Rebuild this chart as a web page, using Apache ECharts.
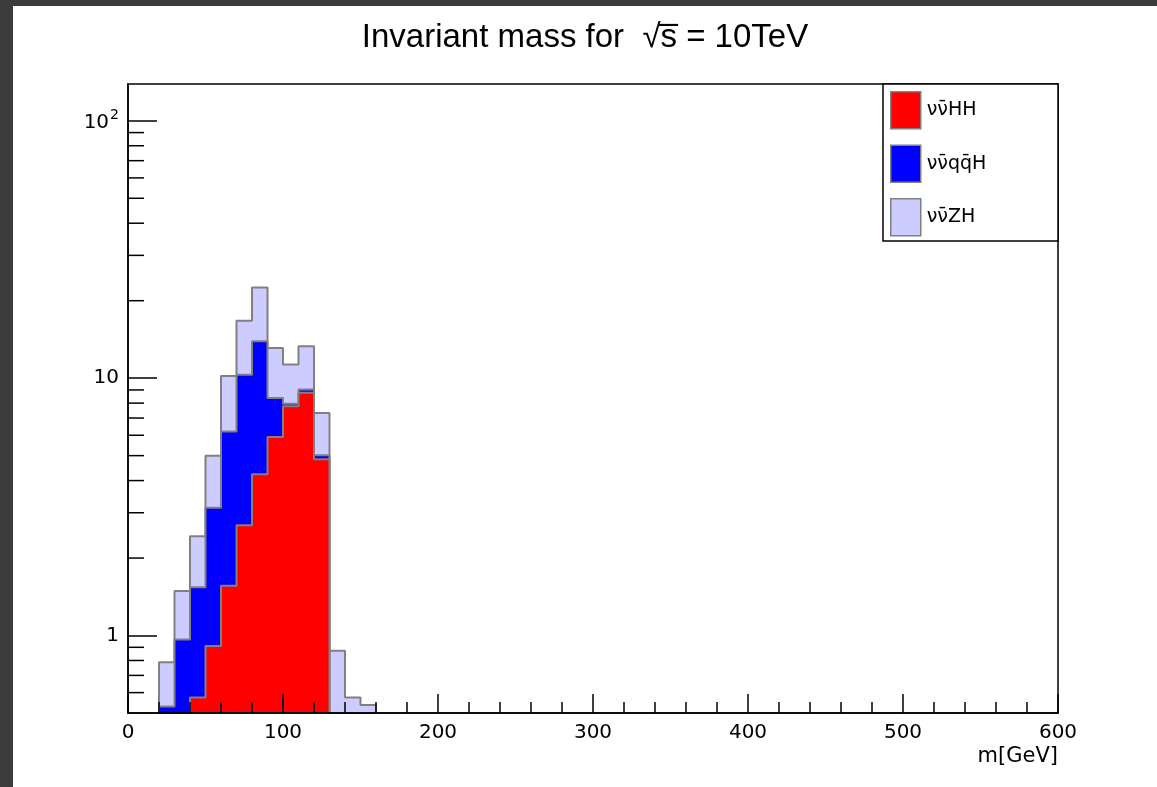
<!DOCTYPE html>
<html>
<head>
<meta charset="utf-8">
<script src="https://cdn.jsdelivr.net/npm/echarts@6/dist/echarts.min.js"></script>
<style>
  html, body { margin: 0; padding: 0; background: #3c3c3c; width: 1157px; height: 787px; overflow: hidden; }
  #chart { position: absolute; left: 13px; top: 6px; width: 1144px; height: 781px; background: #ffffff; }
</style>
</head>
<body>
<div id="chart"></div>
<script>
// ---- data ----
const binStarts = [20, 30, 40, 50, 60, 70, 80, 90, 100, 110, 120, 130, 140, 150]; // GeV, bin width 10
const binWidth = 10;
// per-process contributions per bin (stacked: HH at bottom, then qqH, then ZH)
const hhValues  = [0,    0,    0.575, 0.91, 1.56, 2.68, 4.23, 5.91, 7.78, 8.77, 4.84, 0,    0,    0];
const qqhValues = [0.53, 0.965, 0.965, 2.23, 4.64, 7.62, 9.67, 2.47, 0.17, 0.27, 0.18, 0,    0,    0];
const zhValues  = [0.257, 0.525, 0.89, 1.85, 4.0, 6.4, 8.6, 4.72, 3.35, 4.26, 2.31, 0.872, 0.574, 0.537];
const seriesNames = ['\u03BD\u03BD\u0304HH', '\u03BD\u03BD\u0304qq\u0304H', '\u03BD\u03BD\u0304ZH'];
const yMajorTicks = [1, 10, 100];
const yMinorTicks = [0.6, 0.7, 0.8, 0.9, 2, 3, 4, 5, 6, 7, 8, 9, 20, 30, 40, 50, 60, 70, 80, 90];
const xTickLabels = [0, 100, 200, 300, 400, 500, 600];

const YMIN = 0.5, YMAX = 139;
const FLOOR = YMIN / 100;

// cumulative stack
const cumHH = hhValues.slice();
const cumQQ = hhValues.map((v, i) => v + qqhValues[i]);
const cumZH = cumQQ.map((v, i) => v + zhValues[i]);

function stepData(vals) {
  const pts = [[binStarts[0], FLOOR]];
  vals.forEach((v, i) => pts.push([binStarts[i], v > 0 ? v : FLOOR]));
  pts.push([binStarts[binStarts.length - 1] + binWidth, FLOOR]);
  return pts;
}

const FONT = '"Liberation Sans", Arial, Helvetica, sans-serif';
const WFONT = '"DejaVu Sans", "Liberation Sans", sans-serif';
const chart = echarts.init(document.getElementById('chart'));

function histSeries(name, vals, color, z) {
  return {
    name: name,
    type: 'line',
    step: 'end',
    symbol: 'none',
    data: stepData(vals),
    z: z,
    clip: true,
    itemStyle: { color: color },
    lineStyle: { color: '#808080', width: 2 },
    areaStyle: { color: color, opacity: 1, origin: 'start' },
    emphasis: { disabled: true },
    silent: true,
    animation: false
  };
}

chart.setOption({
  animation: false,
  title: {
    text: 'Invariant mass for  \u221As\u0305 = 10TeV',
    left: 'center',
    top: 10,
    textStyle: { fontFamily: FONT, fontSize: 33, fontWeight: 'normal', color: '#000' }
  },
  grid: {
    left: 115, top: 78, right: 99, bottom: 74,
    show: true, borderColor: '#000', borderWidth: 1.5, backgroundColor: 'transparent', z: 10
  },
  legend: {
    data: seriesNames,
    orient: 'vertical',
    left: 872,
    top: 80,
    itemWidth: 30,
    itemHeight: 37,
    itemGap: 15,
    icon: 'rect',
    itemStyle: { borderColor: '#808080', borderWidth: 1.5 },
    textStyle: { fontFamily: WFONT, fontSize: 19, color: '#000', padding: [0, 0, 0, 1] },
    selectedMode: false,
    z: 20
  },
  xAxis: {
    type: 'value',
    min: 0, max: 600, interval: 100,
    z: 10,
    axisLine: { show: true, onZero: false, lineStyle: { color: '#000', width: 1.5 } },
    axisTick: { show: true, inside: true, length: 19, lineStyle: { color: '#000', width: 1.5 } },
    minorTick: { show: true, splitNumber: 5, length: 11, lineStyle: { color: '#000', width: 1.5 } },
    splitLine: { show: false },
    axisLabel: {
      margin: 10, fontFamily: WFONT, fontSize: 20, color: '#000',
      formatter: v => xTickLabels.includes(v) ? String(v) : ''
    }
  },
  yAxis: {
    type: 'log',
    logBase: 10,
    min: YMIN, max: YMAX,
    z: 10,
    axisLine: { show: true, onZero: false, lineStyle: { color: '#000', width: 1.5 } },
    axisTick: { show: true, inside: true, length: 29, lineStyle: { color: '#000', width: 1.5 } },
    splitLine: { show: false },
    axisLabel: {
      margin: 9, fontFamily: WFONT, fontSize: 20, color: '#000',
      showMinLabel: false, showMaxLabel: false,
      rich: {
        base: { fontFamily: WFONT, fontSize: 20, color: '#000', lineHeight: 24, verticalAlign: 'bottom' },
        sup: { fontFamily: WFONT, fontSize: 14, color: '#000', lineHeight: 24, verticalAlign: 'top', padding: [0, 0, 6, 1] }
      },
      formatter: function (v) {
        const r = Math.round(v);
        if (!yMajorTicks.includes(r) || Math.abs(v - r) > 1e-6) return '';
        return r === 100 ? '{base|10}{sup|2}' : String(r);
      }
    }
  },
  graphic: [
    {
      type: 'rect',
      shape: { x: 870, y: 78, width: 175, height: 157 },
      style: { fill: '#fff', stroke: '#000', lineWidth: 1.5 },
      z: 15
    },
    {
      type: 'text',
      x: 1045, y: 751,
      style: { text: 'm[GeV]', fontFamily: WFONT, fontSize: 21, fill: '#000', align: 'right', verticalAlign: 'middle' },
      z: 15
    }
  ],
  series: [
    histSeries(seriesNames[2], cumZH, '#ccccff', 2),
    histSeries(seriesNames[1], cumQQ, '#0000ff', 3),
    histSeries(seriesNames[0], cumHH, '#ff0000', 4),
    {
      type: 'custom',
      silent: true,
      z: 11,
      data: yMinorTicks.map(v => [0, v]),
      encode: { x: 0, y: 1 },
      renderItem: function (params, api) {
        const p = api.coord([api.value(0), api.value(1)]);
        return {
          type: 'line',
          shape: { x1: p[0], y1: p[1], x2: p[0] + 16, y2: p[1] },
          style: { stroke: '#000', lineWidth: 1.5 }
        };
      }
    }
  ]
});
</script>
</body>
</html>
